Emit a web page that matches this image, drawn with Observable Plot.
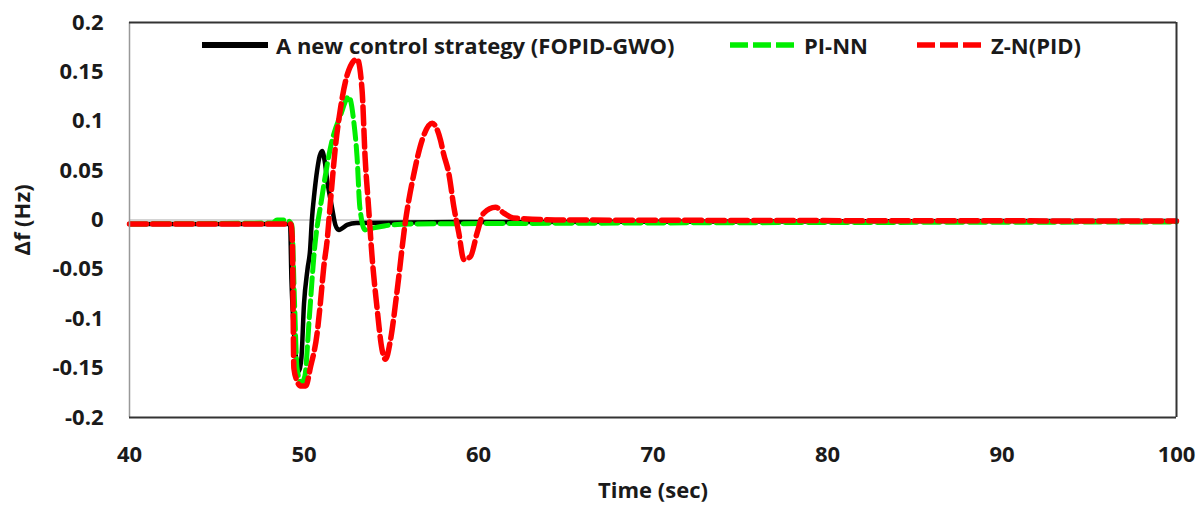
<!DOCTYPE html>
<html><head><meta charset="utf-8">
<script src="https://cdn.jsdelivr.net/npm/d3@7"></script>
<script src="https://cdn.jsdelivr.net/npm/@observablehq/plot@0.6"></script>
<style>
body{margin:0;background:#fff;font-family:"Open Sans",sans-serif;}
#wrap{position:relative;width:1204px;height:505px;}
.leg{position:absolute;top:30px;display:flex;align-items:center;font-weight:700;font-size:22px;color:#1a1a1a;white-space:nowrap;}
.leg svg{margin-right:8px;}
</style></head><body><div id="wrap"></div>
<script>
const seriesNames = ["A new control strategy (FOPID-GWO)", "PI-NN", "Z-N(PID)"];
const seriesColors = ["#000000", "#00ee00", "#ff0000"];

const timeFOPID = [40, 49.2, 49.28, 49.45, 49.7, 49.85, 50.0, 50.2, 50.35, 50.45, 50.6, 50.75, 50.9, 51.04, 51.2, 51.33, 51.6, 51.8, 52.0, 52.47, 53, 60, 100];
const dfFOPID   = [-0.004, -0.004, -0.06, -0.12, -0.153, -0.14, -0.085, -0.05, -0.03, 0.0, 0.028, 0.05, 0.065, 0.07, 0.058, 0.04, 0.013, -0.005, -0.01, -0.005, -0.003, -0.002, -0.001];

const timePINN = [40, 48.2, 48.45, 49.0, 49.3, 49.45, 49.6, 49.85, 50.05, 50.3, 50.6, 51.0, 51.6, 52.09, 52.57, 52.85, 53.04, 53.2, 53.5, 54.0, 54.6, 56, 100];
const dfPINN   = [-0.004, -0.003, 0.0, 0.0, -0.005, -0.08, -0.15, -0.165, -0.158, -0.1, -0.03, 0.02, 0.08, 0.106, 0.125, 0.1, 0.064, 0.013, -0.01, -0.008, -0.006, -0.004, -0.002];

const timeZN = [40, 49.25, 49.33, 49.42, 49.6, 49.8, 50.1, 50.37, 50.75, 50.95, 51.13, 51.33, 51.5, 51.8, 52.1, 52.57, 53.05, 53.33, 53.5, 53.7, 53.9, 54.18, 54.47, 54.67, 54.96, 55.34, 55.8, 56.3, 56.77, 57.35, 57.82, 58.0, 58.3, 58.59, 58.87, 59.16, 59.54, 59.92, 60.3, 60.97, 61.45, 62.0, 65, 100];
const dfZN   = [-0.004, -0.004, -0.02, -0.15, -0.163, -0.168, -0.168, -0.149, -0.115, -0.082, -0.048, -0.02, 0.015, 0.074, 0.114, 0.152, 0.163, 0.131, 0.064, 0.013, -0.037, -0.088, -0.131, -0.141, -0.121, -0.071, -0.003, 0.047, 0.081, 0.098, 0.081, 0.067, 0.047, 0.013, -0.013, -0.04, -0.037, -0.013, 0.007, 0.013, 0.007, 0.002, 0.0, -0.001];

const xTicks = [40, 50, 60, 70, 80, 90, 100];
const yTicks = [-0.2, -0.15, -0.1, -0.05, 0, 0.05, 0.1, 0.15, 0.2];
const xDomain = [40, 100];
const yDomain = [-0.2, 0.2];

const rows = (name, t, v) => t.map((x, i) => ({series: name, t: x, df: v[i]}));
const dataFOPID = rows(seriesNames[0], timeFOPID, dfFOPID);
const dataPINN = rows(seriesNames[1], timePINN, dfPINN);
const dataZN = rows(seriesNames[2], timeZN, dfZN);

const chart = Plot.plot({
  width: 1204, height: 505,
  marginLeft: 129, marginRight: 28, marginTop: 22, marginBottom: 88,
  style: {fontFamily: "'Open Sans', sans-serif", fontSize: "22px", fontWeight: 700, color: "#1a1a1a", background: "#fff"},
  x: {domain: xDomain, ticks: xTicks, tickSize: 0, tickPadding: 29, label: "Time (sec)", labelAnchor: "center", labelArrow: "none", labelOffset: 80},
  y: {domain: yDomain, ticks: yTicks, tickSize: 0, tickPadding: 26, tickFormat: d => String(d), label: "Δf (Hz)", labelAnchor: "center", labelArrow: "none", labelOffset: 115},
  marks: [
    Plot.ruleY([0], {stroke: "#a8a8a8", strokeWidth: 1}),
    Plot.line(dataFOPID, {x: "t", y: "df", stroke: seriesColors[0], strokeWidth: 4.5, curve: "monotone-x"}),
    Plot.line(dataPINN, {x: "t", y: "df", stroke: seriesColors[1], strokeWidth: 5, strokeDasharray: "17,6", curve: "monotone-x"}),
    Plot.line(dataZN, {x: "t", y: "df", stroke: seriesColors[2], strokeWidth: 5.5, strokeDasharray: "17,6", curve: "monotone-x"}),
    Plot.ruleX([xDomain[0]], {stroke: "#999", strokeWidth: 1.5}),
    Plot.ruleX([xDomain[1]], {stroke: "#333", strokeWidth: 2}),
    Plot.ruleY(yDomain, {stroke: "#333", strokeWidth: 2})
  ]
});
const wrap = document.getElementById("wrap");
wrap.appendChild(chart);

const legendItems = [
  {left: 202, dash: null, width: 6},
  {left: 730, dash: "18,5", width: 5.5},
  {left: 917, dash: "18,5", width: 5.5}
];
seriesNames.forEach((name, i) => {
  const it = legendItems[i];
  const div = document.createElement("div");
  div.className = "leg";
  div.style.left = it.left + "px";
  div.innerHTML = `<svg width="66" height="10"><line x1="0" x2="66" y1="5" y2="5" stroke="${seriesColors[i]}" stroke-width="${it.width}" ${it.dash ? `stroke-dasharray="${it.dash}"` : ""}/></svg><span>${name}</span>`;
  wrap.appendChild(div);
});
</script>
</body></html>
